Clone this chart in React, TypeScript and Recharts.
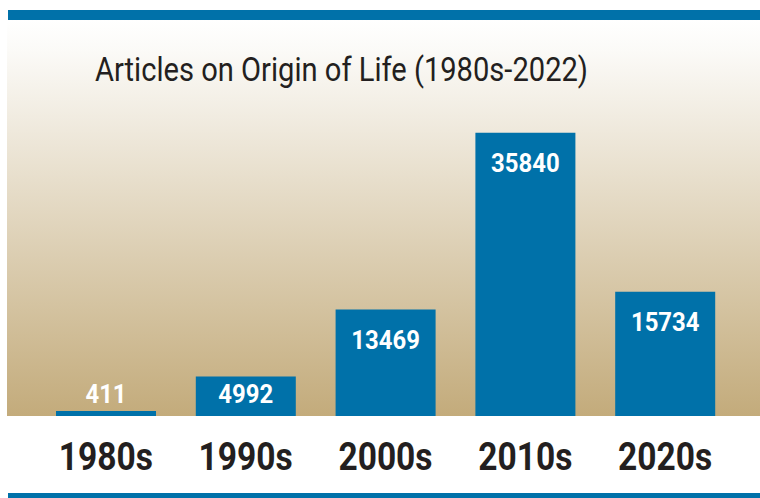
import React from "react";
import { BarChart, Bar, XAxis, YAxis, LabelList } from "recharts";

// decades and article counts
const decades = ["1980s", "1990s", "2000s", "2010s", "2020s"];
const articles = [411, 4992, 13469, 35840, 15734];
const yDomain = [0, 40000];

const BLUE = "#0071a9";
const TAN = "#c3ab7b";
const INK = "#231f20";

const chartData = decades.map((decade, i) => ({ decade, articles: articles[i] }));

const DecadeTick = (props: any) => {
  const { x, y, payload } = props;
  return (
    <g transform={`translate(${x},${y + 54}) scale(0.86,1)`}>
      <text
        x={0}
        y={0}
        textAnchor="middle"
        fill={INK}
        fontFamily="Roboto"
        fontWeight={700}
        fontSize={39}
      >
        {payload.value}
      </text>
    </g>
  );
};

const ValueLabel = (props: any) => {
  const { x, y, width, height, value } = props;
  const cx = Number(x) + Number(width) / 2;
  // tall bars: label sits near the top; short bars: pinned just above the baseline
  const baseY = Math.min(Number(y) + 39, Number(y) + Number(height) - 13);
  return (
    <g transform={`translate(${cx},${baseY}) scale(0.92,1)`}>
      <text
        x={0}
        y={0}
        textAnchor="middle"
        fill="#ffffff"
        fontFamily="Roboto"
        fontWeight={700}
        fontSize={26}
      >
        {value}
      </text>
    </g>
  );
};

export default function App() {
  return (
    <div
      style={{
        position: "absolute",
        left: 0,
        top: 0,
        width: 760,
        height: 498,
        background: "#ffffff",
        overflow: "hidden",
      }}
    >
      {/* panel background */}
      <div
        style={{
          position: "absolute",
          left: 7,
          top: 20,
          width: 753,
          height: 396,
          background: `linear-gradient(to bottom, #ffffff 0%, #fbfaf7 8%, ${TAN} 100%)`,
        }}
      />
      <div style={{ position: "absolute", left: 8, top: 10, width: 752, height: 10, background: BLUE }} />
      <div style={{ position: "absolute", left: 8, top: 493, width: 752, height: 5, background: BLUE }} />

      <svg width={760} height={498} style={{ position: "absolute", left: 0, top: 0 }}>
        <text
          x={95}
          y={81}
          fill={INK}
          fontFamily="Roboto"
          fontWeight={400}
          fontSize={33}
          textLength={493}
          lengthAdjust="spacingAndGlyphs"
        >
          Articles on Origin of Life (1980s-2022)
        </text>
      </svg>

      <div style={{ position: "absolute", left: 0, top: 0 }}>
        <BarChart
          width={760}
          height={498}
          data={chartData}
          margin={{ top: 100, right: 25, left: 36, bottom: 0 }}
        >
          <XAxis
            dataKey="decade"
            axisLine={false}
            tickLine={false}
            tickSize={0}
            tickMargin={0}
            height={82}
            interval={0}
            tick={<DecadeTick />}
          />
          <YAxis hide domain={yDomain} />
          <Bar
            dataKey="articles"
            fill={BLUE}
            barSize={100}
            minPointSize={5}
            isAnimationActive={false}
          >
            <LabelList dataKey="articles" content={<ValueLabel />} />
          </Bar>
        </BarChart>
      </div>
    </div>
  );
}
